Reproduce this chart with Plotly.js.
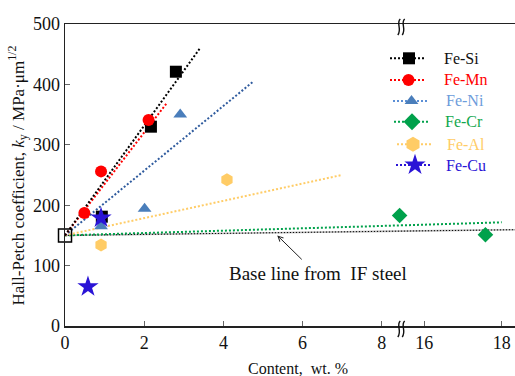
<!DOCTYPE html>
<html><head><meta charset="utf-8">
<script src="https://cdn.plot.ly/plotly-3.0.1.min.js"></script>
<style>html,body{margin:0;padding:0;background:#fff;}#chart{width:515px;height:376px;}</style>
</head><body><div id="chart"></div>
<script>
// ---- data ----
const seriesNames = ['Fe-Si','Fe-Mn','Fe-Ni','Fe-Cr','Fe-Al','Fe-Cu'];
const siX = [0.93, 2.17, 2.80];   const siY = [181, 330, 421];
const mnX = [0.49, 0.91, 2.11];   const mnY = [187, 256, 341];
const niX = [0.91, 2.01, 2.91];   const niY = [165, 194, 350];
const crX = [8.45, 17.58];        const crY = [183, 151];
const alX = [0.91, 4.09];         const alY = [134, 242];
const cuX = [0.58, 0.91];         const cuY = [65, 179];
const ifX = [0];                  const ifY = [150];
// fitted lines (content, ky)
const siFitX = [0, 3.41];  const siFitY = [150, 460];
const mnFitX = [0, 2.57];  const mnFitY = [150, 369];
const niFitX = [0, 4.76];  const niFitY = [150, 405];
const alFitX = [0, 6.99];  const alFitY = [150, 250];
const crFitLX = [0, 8.485];      const crFitLY = [150, 166.6];
const crFitRX = [15.398, 18.0];  const crFitRY = [166.6, 171.6];
const baseLX = [0, 8.485];       const baseLY = [150, 157.1];
const baseRX = [15.398, 18.344]; const baseRY = [157.1, 159.4];
const xTicksLeft = [0, 2, 4, 6, 8];
const xTicksRight = [16, 18];
const yTicks = [0, 100, 200, 300, 400, 500];

// ---- style ----
const FONT = 'Liberation Serif, Times New Roman, serif';
const markerColors = ['#000000','#FF0000','#4A7EBB','#00A14B','#FFCC66','#2A14D6'];
const fitColors    = ['#000000','#FF0000','#2F5B9E','#00A14B','#FFCC66','#2A14D6'];
const legendLineColors = ['#000000','#FF0000','#5B8FD6','#00A14B','#FFCC66','#2A14D6'];
const legendTextColors = ['#111111','#FF0000','#6C9CDB','#12A84E','#FFCC66','#2A14D6'];
const symbols = ['square','circle','triangle-up','diamond','hexagon','star'];
const msize = [12, 12, 12, 12, 13, 16];
const lmsize = [12, 12, 12, 13, 15, 16];
const DOT = '2px,2px';

// plot geometry in pixels
const L = 65, T = 24, W = 450, H = 302;
const breakPx = 401;
const px2paperX = p => (p - L) / W;
const px2paperY = p => (T + H - p) / H;

const traces = [];
function fit(x, y, color, xa) {
  traces.push({x, y, xaxis: xa, yaxis: 'y', mode: 'lines', showlegend: false, hoverinfo: 'skip',
    line: {color, width: 2, dash: DOT}});
}
// base line from IF steel
[[baseLX, baseLY, 'x'], [baseRX, baseRY, 'x2']].forEach(([x, y, xa]) => {
  traces.push({x, y, xaxis: xa, yaxis: 'y', mode: 'lines', showlegend: false, line: {color: '#b0b0b0', width: 1.6}});
  traces.push({x, y, xaxis: xa, yaxis: 'y', mode: 'lines', showlegend: false, line: {color: '#000', width: 1, dash: '1px,2px'}});
});
fit(crFitLX, crFitLY, fitColors[3], 'x');
fit(crFitRX, crFitRY, fitColors[3], 'x2');
fit(alFitX, alFitY, fitColors[4], 'x');
fit(niFitX, niFitY, fitColors[2], 'x');
fit(mnFitX, mnFitY, fitColors[1], 'x');
fit(siFitX, siFitY, fitColors[0], 'x');

function pts(x, y, i, xa) {
  traces.push({x, y, xaxis: xa, yaxis: 'y', mode: 'markers', showlegend: false, cliponaxis: false,
    marker: {symbol: symbols[i], size: msize[i], color: markerColors[i], line: {width: 0}}});
}
pts(siX, siY, 0, 'x');
pts(mnX, mnY, 1, 'x');
pts(niX, niY, 2, 'x');
pts([crX[0]], [crY[0]], 3, 'x');
pts([crX[1]], [crY[1]], 3, 'x2');
pts(alX, alY, 4, 'x');
pts(cuX, cuY, 5, 'x');
traces.push({x: ifX, y: ifY, xaxis: 'x', yaxis: 'y', mode: 'markers', showlegend: false, cliponaxis: false,
  marker: {symbol: 'square-open', size: 13, color: '#000', line: {width: 1.5}}});

// ---- hand-made legend on a pixel overlay axis ----
const legRowY = [58.3, 80, 101, 121.7, 144.3, 165];
const legSymX = [409, 408.5, 411.5, 412, 413, 415];
const legLineX0 = [390, 390, 393, 394, 397, 396];
const legLineX1 = [426, 426, 428, 429, 431, 432];
const legTextX = [441.5, 441.5, 444, 443, 445, 444];
const annotations = [];
seriesNames.forEach((name, i) => {
  traces.push({x: [legLineX0[i], legLineX1[i]], y: [legRowY[i], legRowY[i]], xaxis: 'x3', yaxis: 'y3',
    mode: 'lines', showlegend: false, line: {color: legendLineColors[i], width: 2, dash: DOT}});
  traces.push({x: [legSymX[i]], y: [legRowY[i]], xaxis: 'x3', yaxis: 'y3', mode: 'markers', showlegend: false,
    cliponaxis: false, marker: {symbol: symbols[i], size: lmsize[i], color: markerColors[i], line: {width: 0}}});
  annotations.push({xref: 'paper', yref: 'paper', x: px2paperX(legTextX[i]), y: px2paperY(legRowY[i]),
    xanchor: 'left', yanchor: 'middle', showarrow: false, text: name,
    font: {family: FONT, size: 16, color: legendTextColors[i]}});
});

// base line note + arrow
annotations.push({xref: 'x', yref: 'y', x: 5.36, y: 150, ax: 26, ay: 25.5, axref: 'pixel', ayref: 'pixel',
  showarrow: true, arrowhead: 5, arrowsize: 1, arrowwidth: 1, arrowcolor: '#222', text: ''});
annotations.push({xref: 'paper', yref: 'paper', x: px2paperX(318), y: px2paperY(273.5), xanchor: 'center', yanchor: 'middle',
  showarrow: false, text: 'Base line from\u00A0 IF steel', font: {family: FONT, size: 19, color: '#111'}});
// axis titles
annotations.push({xref: 'paper', yref: 'paper', x: px2paperX(298), y: px2paperY(368), xanchor: 'center', yanchor: 'middle',
  showarrow: false, text: 'Content,\u00A0 wt. %', font: {family: FONT, size: 16, color: '#111'}});
annotations.push({xref: 'paper', yref: 'paper', x: px2paperX(18), y: px2paperY(175.5), xanchor: 'center', yanchor: 'middle',
  textangle: -90, showarrow: false,
  text: 'Hall-Petch coefficient, <i>k</i><sub>y</sub> / MPa\u00B7\u03BCm<sup>1/2</sup>',
  font: {family: FONT, size: 17, color: '#111'}});

// axis break marks
const shapes = [];
function wave(xc, yLine) {
  const top = yLine - 5, bot = yLine + 11;
  const P = (x, y) => px2paperX(x).toFixed(5) + ',' + px2paperY(y).toFixed(5);
  return 'M' + P(xc + 1.5, top) + ' C' + P(xc - 3, top + 4) + ' ' + P(xc + 3.5, bot - 6) + ' ' + P(xc - 1, bot);
}
[T, T + H].forEach(yl => {
  [breakPx - 2.2, breakPx + 2.2].forEach(xc => {
    shapes.push({type: 'path', xref: 'paper', yref: 'paper', path: wave(xc, yl), line: {color: '#111', width: 1.4}});
  });
});

const d1 = px2paperX(breakPx);
const axisCommon = {showline: true, linecolor: '#222', linewidth: 1.5, ticks: 'inside', ticklen: 5, tickwidth: 1,
  tickcolor: '#666', showgrid: false, zeroline: false, tickfont: {family: FONT, size: 18, color: '#111'}, fixedrange: true};
const layout = {
  width: 515, height: 376,
  font: {family: FONT, color: '#111'},
  margin: {l: L, r: 515 - L - W, t: T, b: 376 - T - H, pad: 0},
  paper_bgcolor: '#fff', plot_bgcolor: 'rgba(0,0,0,0)',
  showlegend: false,
  xaxis: Object.assign({}, axisCommon, {domain: [0, d1], range: [0, 8.485], tickvals: xTicksLeft, mirror: true, anchor: 'y'}),
  xaxis2: Object.assign({}, axisCommon, {domain: [d1, 1], range: [15.398, 18.344], tickvals: xTicksRight, mirror: true, anchor: 'y'}),
  yaxis: Object.assign({}, axisCommon, {domain: [0, 1], range: [0, 500], tickvals: yTicks, anchor: 'x'}),
  xaxis3: {domain: [0, 1], range: [L, L + W], visible: false, anchor: 'y3', fixedrange: true},
  yaxis3: {domain: [0, 1], range: [T + H, T], visible: false, anchor: 'x3', fixedrange: true},
  annotations, shapes
};
Plotly.newPlot('chart', traces, layout, {staticPlot: true, displayModeBar: false});
</script></body></html>
